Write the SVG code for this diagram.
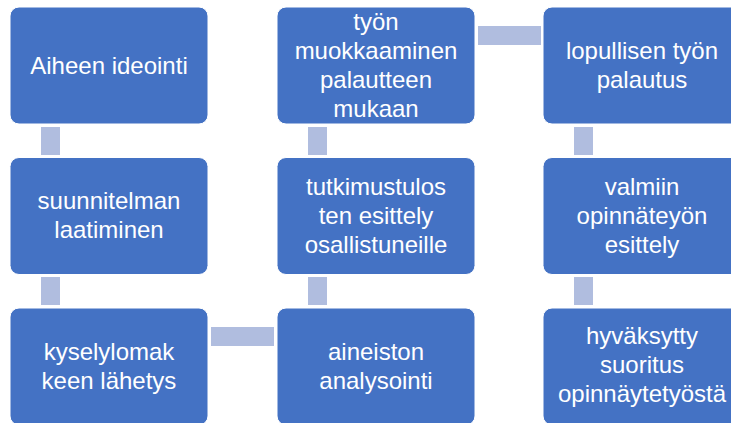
<svg xmlns="http://www.w3.org/2000/svg" width="731" height="423" viewBox="0 0 731 423">
<style>
.box{fill:#4472C4;stroke:#ffffff;stroke-width:1}
.con{fill:#B0BDDF}
text{font-family:"Liberation Sans",Arial,sans-serif;font-size:24px;fill:#ffffff;text-anchor:middle}
</style>
<rect width="731" height="423" fill="#ffffff"/>
<g id="connectors">
<rect class="con" x="41" y="127" width="19" height="28"/>
<rect class="con" x="41" y="277" width="19" height="28"/>
<rect class="con" x="211" y="327" width="63" height="19"/>
<rect class="con" x="308" y="277" width="19" height="28"/>
<rect class="con" x="308" y="127" width="19" height="28"/>
<rect class="con" x="478" y="26" width="63" height="19"/>
<rect class="con" x="574" y="127" width="19" height="28"/>
<rect class="con" x="574" y="277" width="19" height="28"/>
</g>
<g id="n1">
<rect class="box" x="10" y="7" width="198" height="117" rx="9"/>
<text x="109" y="74">Aiheen ideointi</text>
</g>
<g id="n2">
<rect class="box" x="10" y="157.5" width="198" height="117" rx="9"/>
<text x="109" y="209">suunnitelman</text>
<text x="109" y="238">laatiminen</text>
</g>
<g id="n3">
<rect class="box" x="10" y="308" width="198" height="117" rx="9"/>
<text x="109" y="359.5">kyselylomak</text>
<text x="109" y="388.5">keen lähetys</text>
</g>
<g id="n4">
<rect class="box" x="277" y="308" width="198" height="117" rx="9"/>
<text x="376" y="359.5">aineiston</text>
<text x="376" y="388.5">analysointi</text>
</g>
<g id="n5">
<rect class="box" x="277" y="157.5" width="198" height="117" rx="9"/>
<text x="376" y="194.5">tutkimustulos</text>
<text x="376" y="223.5">ten esittely</text>
<text x="376" y="252.5">osallistuneille</text>
</g>
<g id="n6">
<rect class="box" x="277" y="7" width="198" height="117" rx="9"/>
<text x="376" y="29.5">työn</text>
<text x="376" y="58.5">muokkaaminen</text>
<text x="376" y="87.5">palautteen</text>
<text x="376" y="116.5">mukaan</text>
</g>
<g id="n7">
<rect class="box" x="543" y="7" width="198" height="117" rx="9"/>
<text x="642" y="59">lopullisen työn</text>
<text x="642" y="88">palautus</text>
</g>
<g id="n8">
<rect class="box" x="543" y="157.5" width="198" height="117" rx="9"/>
<text x="642" y="194.5">valmiin</text>
<text x="642" y="223.5">opinnäteyön</text>
<text x="642" y="252.5">esittely</text>
</g>
<g id="n9">
<rect class="box" x="543" y="308" width="198" height="117" rx="9"/>
<text x="642" y="344">hyväksytty</text>
<text x="642" y="373">suoritus</text>
<text x="642" y="402">opinnäytetyöstä</text>
</g>
</svg>
